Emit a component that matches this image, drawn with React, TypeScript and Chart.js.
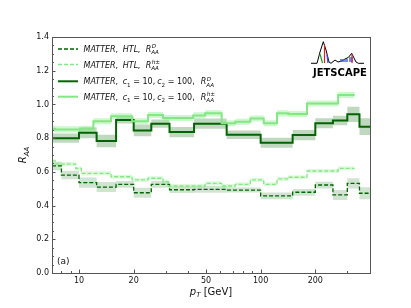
import React, { useEffect, useRef } from 'react';
import { Chart, registerables } from 'chart.js';

Chart.register(...registerables);

const X_MIN = 7.1;
const X_MAX = 400;

// D-meson binning (dark green series)
const dEdges = [7.1, 8, 10, 12.5, 16, 20, 25, 31.5, 43, 65, 100, 150, 200, 250, 300, 350, 400];
const dHTL = [0.635, 0.581, 0.536, 0.51, 0.526, 0.476, 0.526, 0.494, 0.496, 0.492, 0.457, 0.479, 0.522, 0.463, 0.532, 0.473];
const dHTLErr = [0.025, 0.025, 0.03, 0.03, 0.02, 0.03, 0.02, 0.02, 0.02, 0.015, 0.02, 0.02, 0.02, 0.03, 0.03, 0.035];
const dC = [0.8, 0.8, 0.832, 0.783, 0.907, 0.846, 0.886, 0.836, 0.886, 0.82, 0.773, 0.818, 0.888, 0.905, 0.941, 0.868];
const dCErr = [0.027, 0.027, 0.032, 0.037, 0.02, 0.035, 0.025, 0.03, 0.03, 0.025, 0.03, 0.03, 0.03, 0.028, 0.045, 0.05];

// charged hadron binning (light green series)
const hEdges = [7.1, 7.4, 9.6, 10.3, 12, 15, 19.6, 24, 29, 31, 42.5, 49.5, 61, 72.5, 87.7, 104, 123, 142, 180, 267, 329];
const hHTL = [0.665, 0.646, 0.62, 0.591, 0.591, 0.571, 0.552, 0.562, 0.542, 0.516, 0.516, 0.532, 0.516, 0.526, 0.552, 0.526, 0.558, 0.568, 0.605, 0.621];
const hHTLErr = [0.012, 0.012, 0.012, 0.012, 0.012, 0.012, 0.012, 0.012, 0.012, 0.012, 0.012, 0.012, 0.012, 0.012, 0.012, 0.012, 0.012, 0.012, 0.012, 0.012];
const hC = [0.856, 0.852, 0.852, 0.856, 0.9, 0.93, 0.9, 0.937, 0.92, 0.92, 0.935, 0.947, 0.888, 0.897, 0.917, 0.888, 0.947, 0.943, 1.006, 1.056];
const hCErr = [0.018, 0.018, 0.018, 0.018, 0.018, 0.018, 0.018, 0.018, 0.018, 0.018, 0.018, 0.018, 0.018, 0.018, 0.018, 0.018, 0.018, 0.018, 0.018, 0.018];

const xMajorTicks = [10, 20, 50, 100, 200];
const xMinorTicks = [8, 9, 30, 40, 60, 70, 80, 90, 300];
const yMajorTicks = [0, 0.2, 0.4, 0.6, 0.8, 1.0, 1.2, 1.4];

const DARK = '#006400';
const LIGHT = '#86e686';
const DARK_BAND = 'rgba(0,100,0,0.25)';
const DARK_BAND2 = 'rgba(0,100,0,0.18)';
const LIGHT_BAND = 'rgba(144,238,144,0.45)';
const LIGHT_BAND2 = 'rgba(144,238,144,0.3)';

const FONT = '"DejaVu Sans", sans-serif';

function steps(edges: number[], vals: number[], err?: number[], sign = 0) {
  return edges.map((e, i) => {
    const k = Math.min(i, vals.length - 1);
    const v = vals[k] + (err ? sign * err[k] : 0);
    return { x: e, y: v };
  });
}

type Seg = { t: string; it?: boolean; sub?: string; subIt?: boolean; sup?: string; supIt?: boolean; gap?: number };

function mathWidth(ctx: CanvasRenderingContext2D, segs: Seg[], size: number) {
  return drawMath(ctx, 0, 0, segs, size, true);
}

function drawMath(ctx: CanvasRenderingContext2D, x0: number, y: number, segs: Seg[], size: number, measureOnly = false) {
  let x = x0;
  const small = size * 0.7;
  for (const s of segs) {
    if (s.gap) { x += s.gap; continue; }
    ctx.font = `${s.it ? 'italic ' : ''}${size}px ${FONT}`;
    if (!measureOnly) ctx.fillText(s.t, x, y);
    x += ctx.measureText(s.t).width;
    let adv = 0;
    if (s.sub) {
      ctx.font = `${s.subIt ? 'italic ' : ''}${small}px ${FONT}`;
      if (!measureOnly) ctx.fillText(s.sub, x, y + size * 0.28);
      adv = Math.max(adv, ctx.measureText(s.sub).width);
    }
    if (s.sup) {
      ctx.font = `${s.supIt ? 'italic ' : ''}${small}px ${FONT}`;
      if (!measureOnly) ctx.fillText(s.sup, x + 0.5, y - size * 0.45);
      adv = Math.max(adv, ctx.measureText(s.sup).width + 0.5);
    }
    x += adv;
  }
  return x - x0;
}

const legendItems: { color: string; dash: number[]; width: number; segs: Seg[] }[] = [
  { color: DARK, dash: [4, 2], width: 1.3, segs: [{ t: 'MATTER,', it: true }, { gap: 4.5, t: '' }, { t: 'HTL,', it: true }, { gap: 5, t: '' }, { t: 'R', it: true, sub: 'AA', subIt: true, sup: 'D', supIt: true }] },
  { color: LIGHT, dash: [4, 2], width: 1.3, segs: [{ t: 'MATTER,', it: true }, { gap: 4.5, t: '' }, { t: 'HTL,', it: true }, { gap: 5, t: '' }, { t: 'R', it: true, sub: 'AA', subIt: true, sup: 'h±', supIt: true }] },
  { color: DARK, dash: [], width: 2, segs: [{ t: 'MATTER,', it: true }, { gap: 4.5, t: '' }, { t: 'c', it: true, sub: '1' }, { t: ' = 10,' }, { gap: 2, t: '' }, { t: 'c', it: true, sub: '2' }, { t: ' = 100,' }, { gap: 6, t: '' }, { t: 'R', it: true, sub: 'AA', subIt: true, sup: 'D', supIt: true }] },
  { color: LIGHT, dash: [], width: 2, segs: [{ t: 'MATTER,', it: true }, { gap: 4.5, t: '' }, { t: 'c', it: true, sub: '1' }, { t: ' = 10,' }, { gap: 2, t: '' }, { t: 'c', it: true, sub: '2' }, { t: ' = 100,' }, { gap: 6, t: '' }, { t: 'R', it: true, sub: 'AA', subIt: true, sup: 'h±', supIt: true }] },
];

const decorPlugin = {
  id: 'decor',
  afterDraw(chart: any) {
    const ctx: CanvasRenderingContext2D = chart.ctx;
    const { left, right, top, bottom } = chart.chartArea;
    const xs = chart.scales.x;
    const ys = chart.scales.y;
    ctx.save();
    // frame
    ctx.strokeStyle = '#555';
    ctx.lineWidth = 1;
    ctx.setLineDash([]);
    ctx.strokeRect(Math.round(left) + 0.5, Math.round(top) + 0.5, Math.round(right - left), Math.round(bottom - top));
    // ticks (inward)
    ctx.beginPath();
    for (const v of xMajorTicks) {
      const px = Math.round(xs.getPixelForValue(v)) + 0.5;
      ctx.moveTo(px, bottom); ctx.lineTo(px, bottom - 3.5);
    }
    for (const v of xMinorTicks) {
      const px = Math.round(xs.getPixelForValue(v)) + 0.5;
      ctx.moveTo(px, bottom); ctx.lineTo(px, bottom - 2);
    }
    for (const v of yMajorTicks) {
      const py = Math.round(ys.getPixelForValue(v)) + 0.5;
      ctx.moveTo(left, py); ctx.lineTo(left + 3.5, py);
    }
    for (let i = 0; i <= 28; i++) {
      if (i % 4 === 0) continue;
      const py = Math.round(ys.getPixelForValue(i * 0.05)) + 0.5;
      ctx.moveTo(left, py); ctx.lineTo(left + 2, py);
    }
    ctx.stroke();

    // legend
    ctx.fillStyle = '#111';
    ctx.textBaseline = 'alphabetic';
    ctx.textAlign = 'left';
    const rows = [49, 64.5, 81.3, 96.7];
    legendItems.forEach((it, i) => {
      const y = rows[i];
      ctx.strokeStyle = it.color;
      ctx.lineWidth = it.width;
      ctx.setLineDash(it.dash);
      ctx.beginPath();
      ctx.moveTo(58, y); ctx.lineTo(78, y);
      ctx.stroke();
      ctx.setLineDash([]);
      drawMath(ctx, 83.5, y + 3, it.segs, 8);
    });

    // (a)
    ctx.font = `9px ${FONT}`;
    ctx.fillText('(a)', 57, 264);

    // x title
    const xt: Seg[] = [{ t: 'p', it: true, sub: 'T', subIt: true }, { t: ' [GeV]' }];
    const wx = mathWidth(ctx, xt, 10);
    drawMath(ctx, (left + right) / 2 - wx / 2, 294.5, xt, 10);

    // y title
    const yt: Seg[] = [{ t: 'R', it: true, sub: 'AA', subIt: true }];
    const wy = mathWidth(ctx, yt, 10);
    ctx.save();
    ctx.translate(26, (top + bottom) / 2);
    ctx.rotate(-Math.PI / 2);
    drawMath(ctx, -wy / 2, 0, yt, 10);
    ctx.restore();

    // JETSCAPE logo
    ctx.strokeStyle = '#000';
    ctx.lineWidth = 1;
    ctx.beginPath();
    const pts = [[311, 63.3], [317, 63.3], [320, 52], [323.3, 41.7], [326, 50], [329, 62], [331, 63.3], [335, 60], [338, 62], [341.7, 61], [345, 59], [348.3, 57.5], [351.7, 53.3], [354, 58], [356, 62], [358.3, 63.3], [364, 63.3]];
    pts.forEach((p, i) => (i ? ctx.lineTo(p[0], p[1]) : ctx.moveTo(p[0], p[1])));
    ctx.stroke();
    ctx.strokeStyle = '#e02020';
    ctx.lineWidth = 1.2;
    ctx.beginPath(); ctx.moveTo(324.5, 45); ctx.lineTo(324.5, 63); ctx.stroke();
    ctx.strokeStyle = '#20a020';
    ctx.beginPath(); ctx.moveTo(320, 54); ctx.lineTo(322.5, 63); ctx.stroke();
    ctx.strokeStyle = '#3050e0';
    ctx.beginPath(); ctx.moveTo(327, 55); ctx.lineTo(328, 63); ctx.stroke();
    ctx.fillStyle = 'rgba(60,90,230,0.7)';
    ctx.fillRect(340, 59, 8, 3);
    ctx.fillRect(349, 57, 4, 5);
    ctx.strokeStyle = '#e02020';
    ctx.beginPath(); ctx.moveTo(352, 54); ctx.lineTo(352, 63); ctx.stroke();
    ctx.fillStyle = '#000';
    ctx.font = `bold 10px ${FONT}`;
    ctx.fillText('JETSCAPE', 313, 76, 54);
    ctx.restore();
  },
};

export default function App() {
  const ref = useRef<HTMLCanvasElement>(null);
  useEffect(() => {
    if (!ref.current) return;
    const mk = (data: any, color: string, extra: any) => ({
      data, borderColor: color, backgroundColor: color, pointRadius: 0, stepped: true, fill: false, ...extra,
    });
    const datasets: any[] = [
      // lines (index 0..3)
      mk(steps(hEdges, hC), LIGHT, { borderWidth: 2, order: 0 }),
      mk(steps(dEdges, dC), DARK, { borderWidth: 2, order: 1 }),
      mk(steps(hEdges, hHTL), LIGHT, { borderWidth: 1.3, borderDash: [4, 2], order: 2 }),
      mk(steps(dEdges, dHTL), DARK, { borderWidth: 1.3, borderDash: [4, 2], order: 3 }),
      // bands: upper (fill to lower), lower
      mk(steps(hEdges, hC, hCErr, 1), 'rgba(0,0,0,0)', { borderWidth: 0, backgroundColor: LIGHT_BAND, fill: 5, order: 10 }),
      mk(steps(hEdges, hC, hCErr, -1), 'rgba(0,0,0,0)', { borderWidth: 0, order: 10 }),
      mk(steps(dEdges, dC, dCErr, 1), 'rgba(0,0,0,0)', { borderWidth: 0, backgroundColor: DARK_BAND, fill: 7, order: 11 }),
      mk(steps(dEdges, dC, dCErr, -1), 'rgba(0,0,0,0)', { borderWidth: 0, order: 11 }),
      mk(steps(hEdges, hHTL, hHTLErr, 1), 'rgba(0,0,0,0)', { borderWidth: 0, backgroundColor: LIGHT_BAND2, fill: 9, order: 12 }),
      mk(steps(hEdges, hHTL, hHTLErr, -1), 'rgba(0,0,0,0)', { borderWidth: 0, order: 12 }),
      mk(steps(dEdges, dHTL, dHTLErr, 1), 'rgba(0,0,0,0)', { borderWidth: 0, backgroundColor: DARK_BAND2, fill: 11, order: 13 }),
      mk(steps(dEdges, dHTL, dHTLErr, -1), 'rgba(0,0,0,0)', { borderWidth: 0, order: 13 }),
    ];
    const chart = new Chart(ref.current, {
      type: 'line',
      data: { datasets },
      options: {
        animation: false,
        responsive: false,
        devicePixelRatio: 1,
        layout: { padding: { left: 0, right: 41, top: 37, bottom: 0 } },
        plugins: { legend: { display: false }, tooltip: { enabled: false } },
        scales: {
          x: {
            type: 'logarithmic',
            min: X_MIN,
            max: X_MAX,
            grid: { display: false, drawTicks: false },
            border: { display: false },
            afterBuildTicks: (s: any) => {
              s.ticks = [...xMajorTicks, ...xMinorTicks].sort((a, b) => a - b).map((v) => ({ value: v }));
            },
            afterFit: (s: any) => { s.height = 35; },
            ticks: {
              autoSkip: false,
              maxRotation: 0,
              padding: 3,
              color: '#111',
              font: { family: 'DejaVu Sans', size: 8 },
              callback: (v: any) => (xMajorTicks.includes(Number(v)) ? String(v) : ''),
            },
          },
          y: {
            type: 'linear',
            min: 0,
            max: 1.4,
            grid: { display: false, drawTicks: false },
            border: { display: false },
            afterFit: (s: any) => { s.width = 52; },
            ticks: {
              stepSize: 0.2,
              padding: 3,
              color: '#111',
              font: { family: 'DejaVu Sans', size: 8 },
              callback: (v: any) => Number(v).toFixed(1),
            },
          },
        },
      },
      plugins: [decorPlugin],
    });
    return () => chart.destroy();
  }, []);
  return (
    <div style={{ position: 'fixed', left: 0, top: 0, width: 411, height: 308, background: '#fff' }}>
      <canvas ref={ref} width={411} height={308} style={{ width: 411, height: 308 }} />
    </div>
  );
}
